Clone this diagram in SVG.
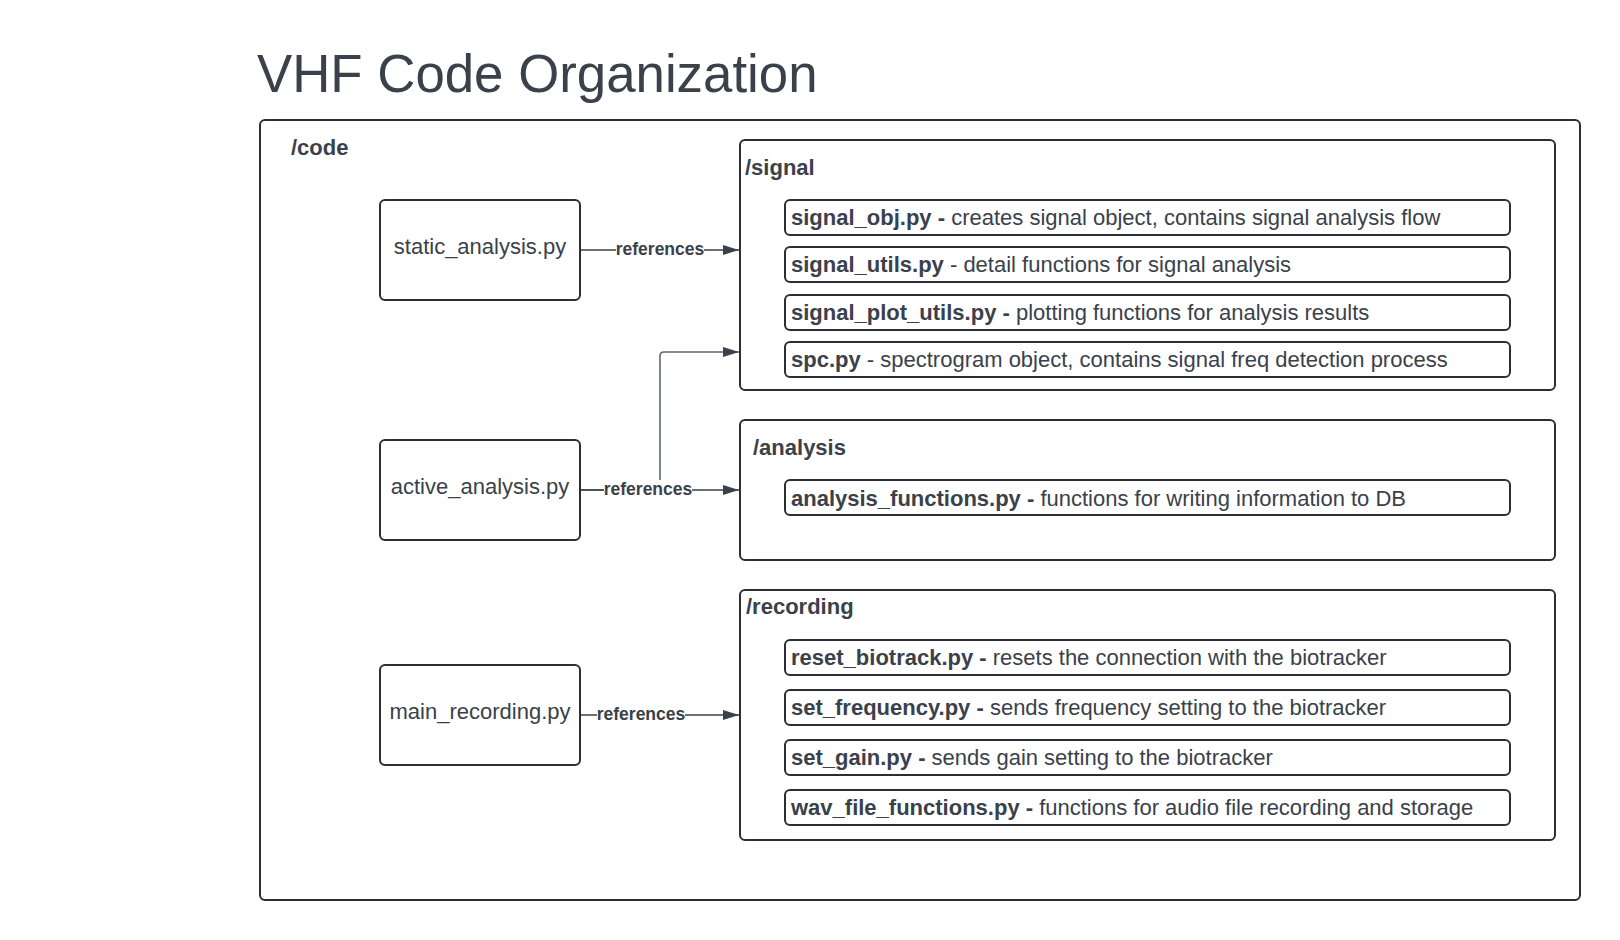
<svg xmlns="http://www.w3.org/2000/svg" width="1620" height="940" viewBox="0 0 1620 940">
<style>
text{font-family:"Liberation Sans",Arial,sans-serif;fill:#3a414a}
.box{fill:#fff;stroke:#2b2f35;stroke-width:2}
.item{fill:#fff;stroke:#2b2f35;stroke-width:2}
.b{font-weight:bold}
.t22{font-size:22px}
.mid{text-anchor:middle}
.conn{fill:none;stroke:#3a414a;stroke-width:1.6}
.conn2{fill:none;stroke:#5f6670;stroke-width:1.6}
.lbl{font-size:17.5px;font-weight:bold;text-anchor:middle}
</style>
<defs>
<marker id="arr" markerUnits="userSpaceOnUse" markerWidth="16" markerHeight="10" refX="16" refY="5" orient="auto">
<path d="M0,0 L16,5 L0,10 z" fill="#3a414a"/>
</marker>
</defs>
<rect width="1620" height="940" fill="#fff"/>
<text x="257" y="92" font-size="52.8">VHF Code Organization</text>

<g id="code">
<rect class="box" x="260" y="120" width="1320" height="780" rx="5"/>
<text class="t22 b" x="291" y="155">/code</text>
</g>

<g id="signal">
<rect class="box" x="740" y="140" width="815" height="250" rx="5"/>
<text class="t22 b" x="745" y="175">/signal</text>
<g id="signal_obj"><rect class="item" x="785" y="200" width="725" height="35" rx="5"/>
<text class="t22" x="791" y="225"><tspan class="b">signal_obj.py - </tspan>creates signal object, contains signal analysis flow</text></g>
<g id="signal_utils"><rect class="item" x="785" y="247" width="725" height="35" rx="5"/>
<text class="t22" x="791" y="272"><tspan class="b">signal_utils.py</tspan> - detail functions for signal analysis</text></g>
<g id="signal_plot_utils"><rect class="item" x="785" y="295" width="725" height="35" rx="5"/>
<text class="t22" x="791" y="320"><tspan class="b">signal_plot_utils.py - </tspan>plotting functions for analysis results</text></g>
<g id="spc"><rect class="item" x="785" y="342" width="725" height="35" rx="5"/>
<text class="t22" x="791" y="367"><tspan class="b">spc.py</tspan> - spectrogram object, contains signal freq detection process</text></g>
</g>

<g id="analysis">
<rect class="box" x="740" y="420" width="815" height="140" rx="5"/>
<text class="t22 b" x="753" y="455">/analysis</text>
<g id="analysis_functions"><rect class="item" x="785" y="480" width="725" height="35" rx="5"/>
<text class="t22" x="791" y="506"><tspan class="b">analysis_functions.py - </tspan>functions for writing information to DB</text></g>
</g>

<g id="recording">
<rect class="box" x="740" y="590" width="815" height="250" rx="5"/>
<text class="t22 b" x="746" y="614">/recording</text>
<g id="reset_biotrack"><rect class="item" x="785" y="640" width="725" height="35" rx="5"/>
<text class="t22" x="791" y="665"><tspan class="b">reset_biotrack.py - </tspan>resets the connection with the biotracker</text></g>
<g id="set_frequency"><rect class="item" x="785" y="690" width="725" height="35" rx="5"/>
<text class="t22" x="791" y="715"><tspan class="b">set_frequency.py - </tspan>sends frequency setting to the biotracker</text></g>
<g id="set_gain"><rect class="item" x="785" y="740" width="725" height="35" rx="5"/>
<text class="t22" x="791" y="765"><tspan class="b">set_gain.py - </tspan>sends gain setting to the biotracker</text></g>
<g id="wav_file_functions"><rect class="item" x="785" y="790" width="725" height="35" rx="5"/>
<text class="t22" x="791" y="815"><tspan class="b">wav_file_functions.py - </tspan>functions for audio file recording and storage</text></g>
</g>

<g id="static_analysis">
<rect class="box" x="380" y="200" width="200" height="100" rx="5"/>
<text class="t22 mid" x="480" y="254">static_analysis.py</text>
</g>
<g id="active_analysis">
<rect class="box" x="380" y="440" width="200" height="100" rx="5"/>
<text class="t22 mid" x="480" y="494">active_analysis.py</text>
</g>
<g id="main_recording">
<rect class="box" x="380" y="665" width="200" height="100" rx="5"/>
<text class="t22 mid" x="480" y="719">main_recording.py</text>
</g>

<g id="connectors">
<path class="conn" d="M581,250 H739" marker-end="url(#arr)"/>
<path class="conn2" d="M581,490 H660 V356 Q660,352 664,352 H739" marker-end="url(#arr)"/>
<path class="conn" d="M581,490 H739" marker-end="url(#arr)"/>
<path class="conn" d="M581,715 H739" marker-end="url(#arr)"/>
<rect x="616" y="240" width="88" height="18" fill="#fff"/>
<text class="lbl" x="660" y="255">references</text>
<rect x="604" y="480" width="88" height="18" fill="#fff"/>
<text class="lbl" x="648" y="495">references</text>
<rect x="597" y="705" width="88" height="18" fill="#fff"/>
<text class="lbl" x="641" y="720">references</text>
</g>
</svg>
